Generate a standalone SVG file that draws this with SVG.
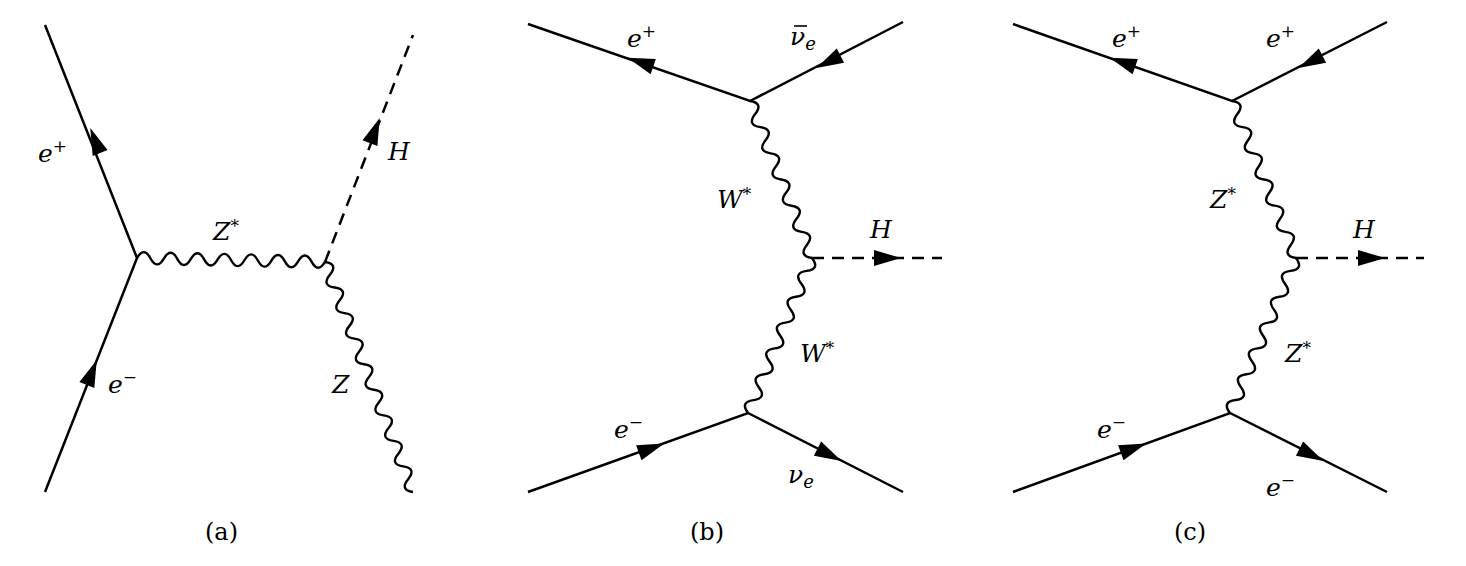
<svg xmlns="http://www.w3.org/2000/svg" width="1466" height="566" viewBox="0 0 1466 566">
<style>
.f{fill:none;stroke:#000;stroke-width:2.5}
.d{fill:none;stroke:#000;stroke-width:2.5;stroke-dasharray:12,8}
.w{fill:none;stroke:#000;stroke-width:2.4}
text{font-family:"DejaVu Serif","Liberation Serif",serif;font-style:italic;font-size:25px;fill:#000}
.c{font-style:normal;font-size:24px}
.s{font-size:17px;font-style:normal}
.si{font-size:18px}
</style>
<defs><path id="ar" d="M-14,-8 L13,0 L-14,8 Z" fill="#000"/></defs>
<g id="connectors">
<path class="f" d="M45,25 L137,258 L45,492"/>
<path class="d" d="M325,262 L413,35"/>
<path class="w" transform="translate(137,258) rotate(1.2)" d="M0,0 q6.71,-12 13.43,0 t13.43,0 t13.43,0 t13.43,0 t13.43,0 t13.43,0 t13.43,0 t13.43,0 t13.43,0 t13.43,0 t13.43,0 t13.43,0 t13.43,0 t13.43,0"/>
<path class="w" transform="translate(325,262) rotate(69.06)" d="M0,0 q6.84,-12 13.68,0 t13.68,0 t13.68,0 t13.68,0 t13.68,0 t13.68,0 t13.68,0 t13.68,0 t13.68,0 t13.68,0 t13.68,0 t13.68,0 t13.68,0 t13.68,0 t13.68,0 t13.68,0 t13.68,0 t13.68,0"/>
<use href="#ar" transform="translate(95,140) rotate(-111.5)"/>
<use href="#ar" transform="translate(92,372) rotate(-68.5)"/>
<use href="#ar" transform="translate(375,130) rotate(-68.8)"/>
<path class="f" d="M528,24 L750,101 L903,22"/>
<path class="f" d="M528,492 L748,413 L903,492"/>
<path class="d" d="M812,258 L942,258"/>
<path class="w" transform="translate(750,101) rotate(68.45)" d="M0,0 q7.03,-12 14.07,0 t14.07,0 t14.07,0 t14.07,0 t14.07,0 t14.07,0 t14.07,0 t14.07,0 t14.07,0 t14.07,0 t14.07,0 t14.07,0"/>
<path class="w" transform="translate(812,258) rotate(112.4)" d="M0,0 q6.98,-12 13.97,0 t13.97,0 t13.97,0 t13.97,0 t13.97,0 t13.97,0 t13.97,0 t13.97,0 t13.97,0 t13.97,0 t13.97,0 t13.97,0"/>
<use href="#ar" transform="translate(640,62) rotate(199.1)"/>
<use href="#ar" transform="translate(828,62) rotate(152.7)"/>
<use href="#ar" transform="translate(888,258)"/>
<use href="#ar" transform="translate(652,448) rotate(-19.8)"/>
<use href="#ar" transform="translate(830,455) rotate(27)"/>
<path class="f" d="M1013,24 L1232,101 L1387,22"/>
<path class="f" d="M1013,492 L1230,413 L1387,492"/>
<path class="d" d="M1296,258 L1424,258"/>
<path class="w" transform="translate(1232,101) rotate(67.8)" d="M0,0 q7.06,-12 14.13,0 t14.13,0 t14.13,0 t14.13,0 t14.13,0 t14.13,0 t14.13,0 t14.13,0 t14.13,0 t14.13,0 t14.13,0 t14.13,0"/>
<path class="w" transform="translate(1296,258) rotate(113.1)" d="M0,0 q7.02,-12 14.04,0 t14.04,0 t14.04,0 t14.04,0 t14.04,0 t14.04,0 t14.04,0 t14.04,0 t14.04,0 t14.04,0 t14.04,0 t14.04,0"/>
<use href="#ar" transform="translate(1122,62) rotate(199.1)"/>
<use href="#ar" transform="translate(1310,62) rotate(152.7)"/>
<use href="#ar" transform="translate(1372,258)"/>
<use href="#ar" transform="translate(1134,448) rotate(-19.8)"/>
<use href="#ar" transform="translate(1312,455) rotate(27)"/>
</g>
<g id="labels-a">
<text x="38" y="162">e<tspan class="s" dy="-10">+</tspan></text>
<text x="388" y="160">H</text>
<text x="213" y="240">Z<tspan class="s" dy="-8">*</tspan></text>
<text x="108" y="393">e<tspan class="s" dy="-10">−</tspan></text>
<text x="332" y="393">Z</text>
<text class="c" x="205" y="540">(a)</text>
</g>
<g id="labels-b">
<text x="790" y="45">ν<tspan class="si" dy="5">e</tspan></text>
<line x1="794" y1="26" x2="807" y2="26" stroke="#000" stroke-width="1.6"/>
<text x="627" y="47">e<tspan class="s" dy="-10">+</tspan></text>
<text x="717" y="208">W<tspan class="s" dy="-8">*</tspan></text>
<text x="870" y="238">H</text>
<text x="800" y="362">W<tspan class="s" dy="-8">*</tspan></text>
<text x="614" y="438">e<tspan class="s" dy="-10">−</tspan></text>
<text x="788" y="483">ν<tspan class="si" dy="5">e</tspan></text>
<text class="c" x="690" y="540">(b)</text>
</g>
<g id="labels-c">
<text x="1112" y="47">e<tspan class="s" dy="-10">+</tspan></text>
<text x="1266" y="47">e<tspan class="s" dy="-10">+</tspan></text>
<text x="1210" y="208">Z<tspan class="s" dy="-8">*</tspan></text>
<text x="1353" y="238">H</text>
<text x="1285" y="362">Z<tspan class="s" dy="-8">*</tspan></text>
<text x="1097" y="438">e<tspan class="s" dy="-10">−</tspan></text>
<text x="1266" y="496">e<tspan class="s" dy="-10">−</tspan></text>
<text class="c" x="1174" y="540">(c)</text>
</g>
</svg>
